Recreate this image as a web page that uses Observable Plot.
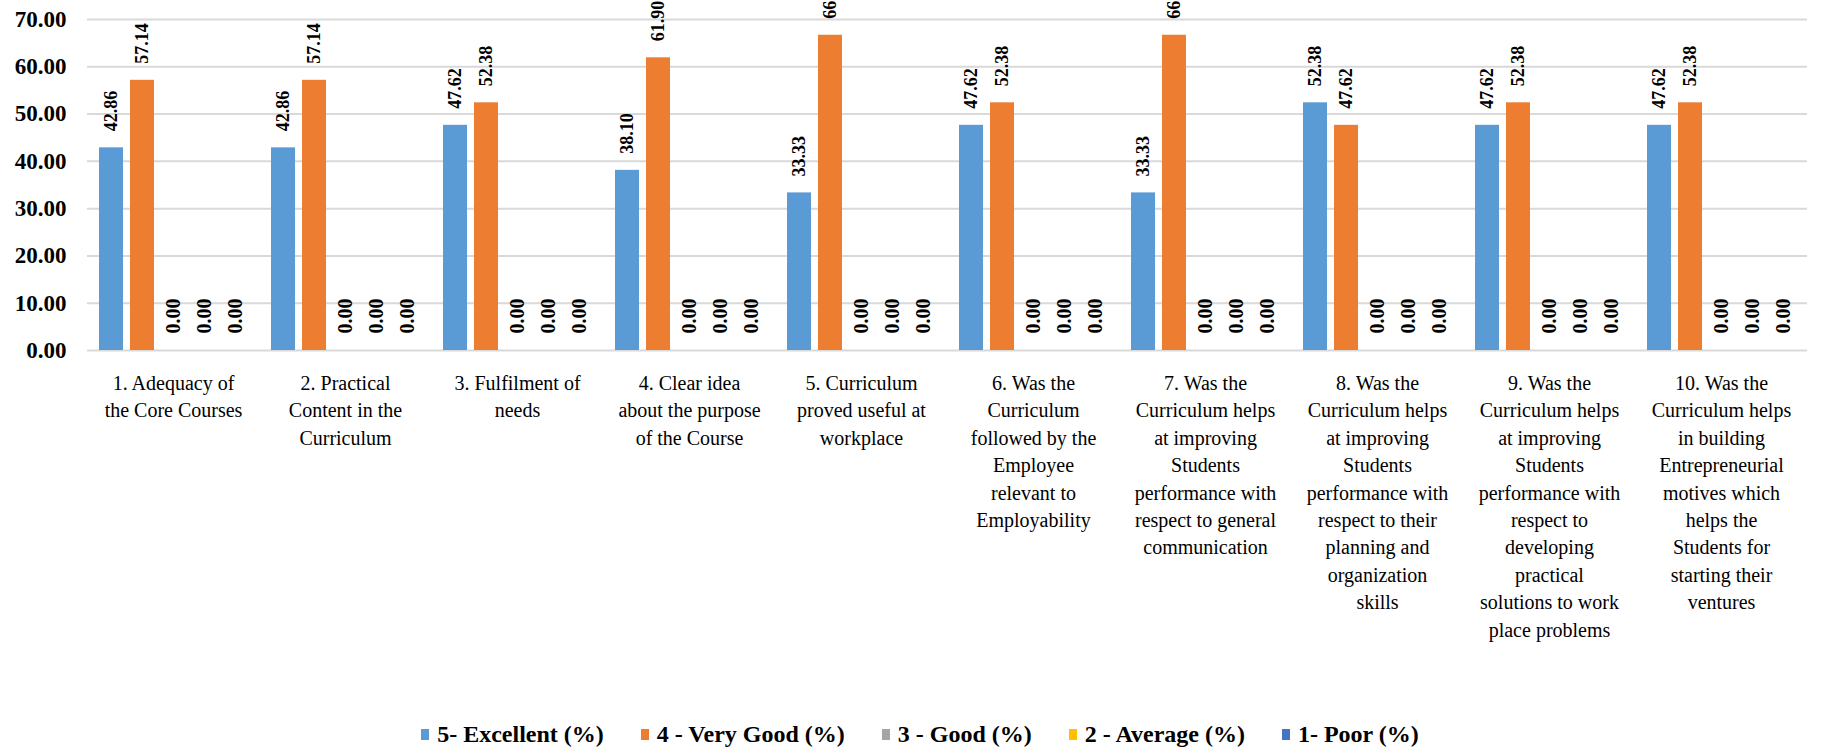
<!DOCTYPE html>
<html>
<head>
<meta charset="utf-8">
<script src="https://cdn.jsdelivr.net/npm/d3@7"></script>
<script src="https://cdn.jsdelivr.net/npm/@observablehq/plot@0.6"></script>
<style>
  html, body { margin: 0; padding: 0; background: #fff; }
  #chart svg { display: block; }
  #legend {
    display: flex; justify-content: center; align-items: center; gap: 37px;
    margin-top: 10px; height: 28px; padding-left: 16px;
    font-family: "Liberation Serif", "Times New Roman", serif; font-weight: bold; font-size: 24px; color: #000;
  }
  #legend .item { display: flex; align-items: center; }
  #legend .sw { width: 8px; height: 11px; margin-right: 8px; display: inline-block; }
</style>
</head>
<body>
<div id="chart"></div>
<div id="legend"></div>
<script>
const categories = [
  "1. Adequacy of\nthe Core Courses",
  "2. Practical\nContent in the\nCurriculum",
  "3. Fulfilment of\nneeds",
  "4. Clear idea\nabout the purpose\nof the Course",
  "5. Curriculum\nproved useful at\nworkplace",
  "6. Was the\nCurriculum\nfollowed by the\nEmployee\nrelevant to\nEmployability",
  "7. Was the\nCurriculum helps\nat improving\nStudents\nperformance with\nrespect to general\ncommunication",
  "8. Was the\nCurriculum helps\nat improving\nStudents\nperformance with\nrespect to their\nplanning and\norganization\nskills",
  "9. Was the\nCurriculum helps\nat improving\nStudents\nperformance with\nrespect to\ndeveloping\npractical\nsolutions to work\nplace problems",
  "10. Was the\nCurriculum helps\nin building\nEntrepreneurial\nmotives which\nhelps the\nStudents for\nstarting their\nventures"
];
const seriesNames = ["5- Excellent (%)", "4 - Very Good (%)", "3 - Good (%)", "2 - Average (%)", "1- Poor (%)"];
const excellent = [42.86, 42.86, 47.62, 38.10, 33.33, 47.62, 33.33, 52.38, 47.62, 47.62];
const veryGood  = [57.14, 57.14, 52.38, 61.90, 66.67, 52.38, 66.67, 47.62, 52.38, 52.38];
const good      = [0, 0, 0, 0, 0, 0, 0, 0, 0, 0];
const average   = [0, 0, 0, 0, 0, 0, 0, 0, 0, 0];
const poor      = [0, 0, 0, 0, 0, 0, 0, 0, 0, 0];
const yTicks = [0, 10, 20, 30, 40, 50, 60, 70];
const colors = ["#5B9BD5", "#ED7D31", "#A5A5A5", "#FFC000", "#4472C4"];

const seriesValues = [excellent, veryGood, good, average, poor];
const data = [];
categories.forEach((c, i) => {
  seriesNames.forEach((s, j) => {
    data.push({cat: c, series: s, value: seriesValues[j][i]});
  });
});

const H = 710;
const font = '"Liberation Serif", "Times New Roman", serif';

const chart = Plot.plot({
  width: 1824,
  height: H,
  marginLeft: 86,
  marginRight: 17,
  marginTop: 19,
  marginBottom: H - 350,
  style: {fontFamily: font, fontSize: "20px", color: "#000", background: "#fff"},
  fx: {domain: categories, paddingInner: 0, paddingOuter: 0, label: null},
  x: {domain: seriesNames, paddingInner: 0.226, paddingOuter: 0.387, axis: null},
  y: {domain: [0, 70], label: null},
  color: {domain: seriesNames, range: colors},
  marks: [
    Plot.gridY(yTicks, {stroke: "#d9d9d9", strokeOpacity: 1, strokeWidth: 2}),
    Plot.axisY(yTicks, {tickSize: 0, tickPadding: 21, fontSize: 23, fontWeight: "bold", tickFormat: d => d.toFixed(2), label: null}),
    Plot.axisFx({anchor: "bottom", tickSize: 0, tickPadding: 20, fontSize: 20, lineHeight: 1.37, label: null}),
    Plot.barY(data, {fx: "cat", x: "series", y: "value", fill: "series"}),
    Plot.text(data.filter(d => d.value > 0), {
      fx: "cat", x: "series", y: "value", text: d => d.value.toFixed(2),
      rotate: -90, textAnchor: "start", dy: -16.5, fontSize: 18, fontWeight: "bold", fill: "#000"
    }),
    Plot.text(data.filter(d => d.value === 0), {
      fx: "cat", x: "series", y: "value", text: d => d.value.toFixed(2),
      rotate: -90, textAnchor: "start", dy: -17, fontSize: 20, fontWeight: "bold", fill: "#000"
    })
  ]
});
document.getElementById("chart").appendChild(chart);

const legend = document.getElementById("legend");
seriesNames.forEach((s, j) => {
  const item = document.createElement("div");
  item.className = "item";
  const sw = document.createElement("span");
  sw.className = "sw";
  sw.style.background = colors[j];
  item.appendChild(sw);
  const t = document.createElement("span");
  t.textContent = s;
  item.appendChild(t);
  legend.appendChild(item);
});
</script>
</body>
</html>
